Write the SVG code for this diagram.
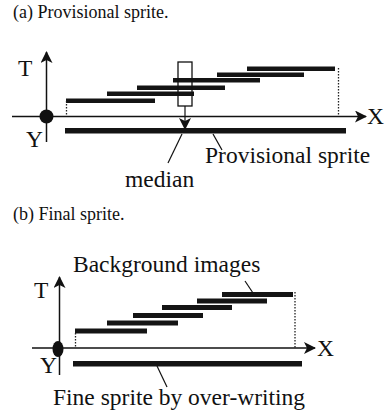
<svg xmlns="http://www.w3.org/2000/svg" width="385" height="412" viewBox="0 0 385 412">
  <style>
    .cap { font-family: 'Liberation Serif', Tinos, 'Times New Roman', 'DejaVu Serif', serif; font-size: 18px; fill: #111; }
    .lbl { font-family: 'Liberation Serif', Tinos, 'Times New Roman', 'DejaVu Serif', serif; font-size: 23.5px; fill: #111; }
    .axis { stroke: #111; stroke-width: 1.5; fill: none; }
    .dot { stroke: #222; stroke-width: 1.3; stroke-dasharray: 1.5 1.5; fill: none; }
    .bar { fill: #141414; }
    .sprite { fill: #141414; }
    .lead { stroke: #111; stroke-width: 1.2; fill: none; }
  </style>
  <defs>
    <marker id="arr" viewBox="0 0 12 12" refX="11" refY="6" markerWidth="12" markerHeight="12" markerUnits="userSpaceOnUse" orient="auto">
      <path d="M0,0 L12,6 L0,12 L3,6 Z" fill="#111"/>
    </marker>
  </defs>

  <rect width="385" height="412" fill="#fff"/>

  <!-- (a) provisional sprite -->
  <text class="cap" x="13" y="18">(a) Provisional sprite.</text>

  <g id="axes-a">
    <line class="axis" x1="46.5" y1="142" x2="46.5" y2="52" marker-end="url(#arr)"/>
    <line class="axis" x1="12" y1="116.5" x2="366" y2="116.5" marker-end="url(#arr)"/>
    <circle cx="46.5" cy="116.5" r="7" fill="#111"/>
    <text class="lbl" x="18" y="76">T</text>
    <text class="lbl" x="26" y="147">Y</text>
    <text class="lbl" x="367" y="124">X</text>
  </g>

  <g id="frames-a">
    <rect class="bar" x="66" y="98.5" width="89" height="4.5"/>
    <rect class="bar" x="107" y="91.5" width="87" height="4.5"/>
    <rect class="bar" x="137" y="85.5" width="88" height="4.5"/>
    <rect class="bar" x="173" y="78" width="87" height="4.5"/>
    <rect class="bar" x="217" y="72.5" width="87" height="4.5"/>
    <rect class="bar" x="247" y="66.5" width="88" height="4.5"/>
    <line class="dot" x1="66.5" y1="101" x2="66.5" y2="116"/>
    <line class="dot" x1="338.5" y1="68" x2="338.5" y2="116"/>
  </g>

  <g id="median-window">
    <rect x="178" y="62" width="14" height="44" fill="none" stroke="#111" stroke-width="1.3"/>
  </g>

  <g id="provisional-sprite">
    <rect class="sprite" x="65" y="128" width="281" height="5.5"/>
  </g>

  <g id="labels-a">
    <text class="lbl" x="205" y="163">Provisional sprite</text>
    <text class="lbl" x="125" y="187">median</text>
  </g>

  <!-- (b) final sprite -->
  <text class="cap" x="13" y="220">(b) Final sprite.</text>

  <g id="axes-b">
    <line class="axis" x1="59.5" y1="375" x2="59.5" y2="277" marker-end="url(#arr)"/>
    <line class="axis" x1="32" y1="348" x2="315" y2="348" marker-end="url(#arr)"/>
    <ellipse cx="58" cy="349" rx="5.5" ry="8" fill="#111"/>
    <text class="lbl" x="34" y="298">T</text>
    <text class="lbl" x="40" y="373">Y</text>
    <text class="lbl" x="317" y="356">X</text>
  </g>

  <g id="frames-b">
    <rect class="bar" x="75" y="328.5" width="72" height="5"/>
    <rect class="bar" x="107" y="320.5" width="71" height="5"/>
    <rect class="bar" x="133" y="313" width="70" height="5"/>
    <rect class="bar" x="162" y="305" width="70" height="5"/>
    <rect class="bar" x="197" y="298.5" width="70" height="5"/>
    <rect class="bar" x="222" y="292" width="71" height="5"/>
    <line class="dot" x1="75.5" y1="333" x2="75.5" y2="348"/>
    <line class="dot" x1="295" y1="292" x2="295" y2="348"/>
  </g>

  <g id="fine-sprite">
    <rect class="sprite" x="73" y="361" width="229" height="5.5"/>
  </g>

  <g id="labels-b">
    <text class="lbl" x="73" y="272">Background images</text>
    <text class="lbl" x="53" y="405">Fine sprite by over-writing</text>
  </g>

  <g id="connectors">
    <line class="lead" x1="185" y1="106" x2="185" y2="129" marker-end="url(#arr)"/>
    <line class="lead" x1="182" y1="134" x2="168" y2="163"/>
    <line class="lead" x1="213" y1="134" x2="222" y2="150"/>
    <line class="lead" x1="245" y1="281" x2="253" y2="293"/>
    <line class="lead" x1="157" y1="366" x2="167" y2="387"/>
  </g>
</svg>
